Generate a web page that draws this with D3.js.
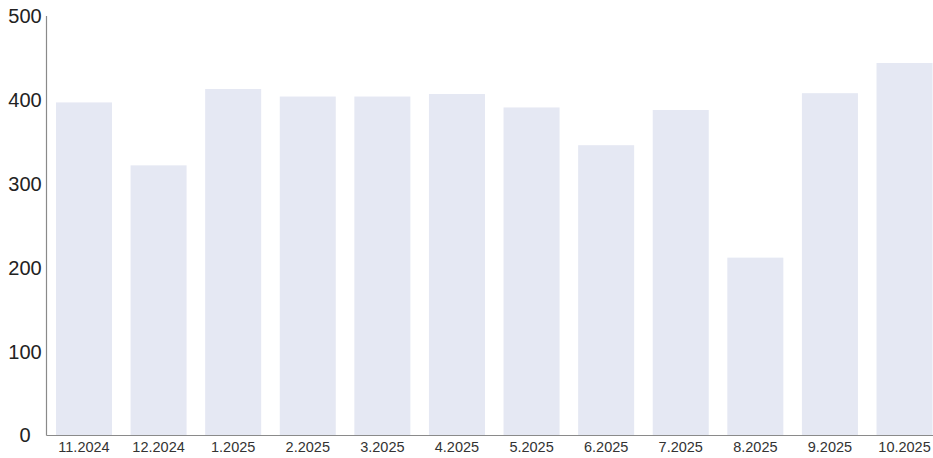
<!DOCTYPE html>
<html>
<head>
<meta charset="utf-8">
<script src="https://cdn.jsdelivr.net/npm/d3@7"></script>
<style>
  html, body { margin: 0; padding: 0; background: #fff; }
  svg { display: block; }
</style>
</head>
<body>
<svg id="chart" width="933" height="458"></svg>
<script>
const categories = ["11.2024", "12.2024", "1.2025", "2.2025", "3.2025", "4.2025", "5.2025", "6.2025", "7.2025", "8.2025", "9.2025", "10.2025"];
const values = [397, 322, 413, 404, 404, 407, 391, 346, 388, 212, 408, 444];
const yTicks = [0, 100, 200, 300, 400, 500];

const svg = d3.select("#chart");
const x0 = 46.5, x1 = 942, yBottom = 435.5, yTop = 16;

const x = d3.scaleBand().domain(categories).range([x0, x1])
  .paddingInner(0.249).paddingOuter(0.127);
const y = d3.scaleLinear().domain([0, 500]).range([yBottom, yTop]);

svg.append("g").selectAll("rect").data(values).join("rect")
  .attr("x", (d, i) => x(categories[i]))
  .attr("y", d => y(d))
  .attr("width", x.bandwidth())
  .attr("height", d => y(0) - y(d))
  .attr("fill", "#e5e8f3");

// Y axis
const yAxis = svg.append("g").attr("transform", `translate(${x0},0)`)
  .call(d3.axisLeft(y).tickValues(yTicks).tickSize(0).tickPadding(0).tickFormat(d3.format("d")));
yAxis.select(".domain").attr("stroke", "#8a8a8a").attr("stroke-width", 1.2).attr("d", `M0,${yTop}V${yBottom}`);
yAxis.selectAll("text")
  .attr("x", 25 - x0).attr("text-anchor", "middle")
  .attr("font-family", "Liberation Sans, Arial, sans-serif")
  .attr("font-size", 20).attr("fill", "#222");

// X axis
const xAxis = svg.append("g").attr("transform", `translate(0,${yBottom})`)
  .call(d3.axisBottom(x).tickSize(0).tickPadding(6));
xAxis.select(".domain").attr("stroke", "#8a8a8a").attr("stroke-width", 1.2).attr("d", `M${x0},0H933`);
xAxis.selectAll("text")
  .attr("font-family", "Liberation Sans, Arial, sans-serif")
  .attr("font-size", 14.5).attr("fill", "#333");
</script>
</body>
</html>
